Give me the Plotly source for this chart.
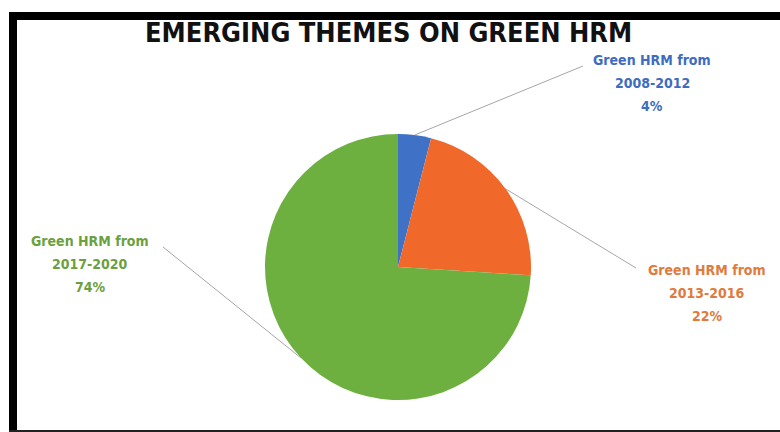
import numpy as np
import plotly.graph_objects as go

# ---- data ----
periods = ["2008-2012", "2013-2016", "2017-2020"]
values = [4, 22, 74]
slice_colors = ["#3F72C6", "#F0692A", "#6DB03F"]
text_colors = ["#3D6CC0", "#E07B3C", "#6C9F3E"]
title_text = "EMERGING THEMES ON GREEN HRM"

W, H = 780, 432
cx, cy, r = 398, 267, 133  # pie centre / radius in pixels

def px(x):
    return x / W

def py(y):
    return 1 - y / H

fig = go.Figure()
fig.add_trace(go.Pie(
    labels=["Green HRM from " + p for p in periods],
    values=values,
    sort=False,
    direction="clockwise",
    rotation=0,
    textinfo="none",
    hoverinfo="label+percent",
    marker=dict(colors=slice_colors, line=dict(width=0)),
    domain=dict(x=[px(cx - r), px(cx + r)], y=[py(cy + r), py(cy - r)]),
    showlegend=False,
))

# label block positions (centre x, first line y) in pixels
label_pos = [(652, 60), (707, 270), (90, 241)]
line_ends = [(583, 66), (636, 268), (163, 247)]
line_gap = 23
font_fam = "DejaVu Sans Condensed, Liberation Sans Narrow, Arial"

total = sum(values)
cum = np.cumsum([0] + values)
shapes = []
annotations = []
for i, v in enumerate(values):
    mid = (cum[i] + v / 2) / total * 2 * np.pi
    sx = cx + r * np.sin(mid)
    sy = cy - r * np.cos(mid)
    ex, ey = line_ends[i]
    shapes.append(dict(type="line", xref="paper", yref="paper",
                       x0=px(sx), y0=py(sy), x1=px(ex), y1=py(ey),
                       line=dict(color="#A6A6A6", width=1)))
    lx, ly = label_pos[i]
    lines = ["Green HRM from", periods[i], f"{round(v / total * 100)}%"]
    for k, t in enumerate(lines):
        annotations.append(dict(
            x=px(lx), y=py(ly + k * line_gap), xref="paper", yref="paper",
            text=t, showarrow=False, xanchor="center", yanchor="middle",
            font=dict(family=font_fam, size=14, color=text_colors[i], weight="bold"),
        ))

annotations.append(dict(
    x=px(388), y=py(33), xref="paper", yref="paper", text=title_text,
    showarrow=False, xanchor="center", yanchor="middle",
    font=dict(family=font_fam, size=27, color="#111111", weight="bold"),
))

# black frame (top, left, bottom)
shapes += [
    dict(type="rect", xref="paper", yref="paper", x0=px(9), x1=1, y0=py(20), y1=py(12),
         fillcolor="black", line=dict(width=0)),
    dict(type="rect", xref="paper", yref="paper", x0=px(9), x1=px(17), y0=0, y1=py(12),
         fillcolor="black", line=dict(width=0)),
    dict(type="rect", xref="paper", yref="paper", x0=px(9), x1=1, y0=0, y1=py(430),
         fillcolor="#222222", line=dict(width=0)),
]

fig.update_layout(
    width=W, height=H,
    margin=dict(l=0, r=0, t=0, b=0),
    paper_bgcolor="white", plot_bgcolor="white",
    shapes=shapes, annotations=annotations,
)
fig.write_html("out.html")
